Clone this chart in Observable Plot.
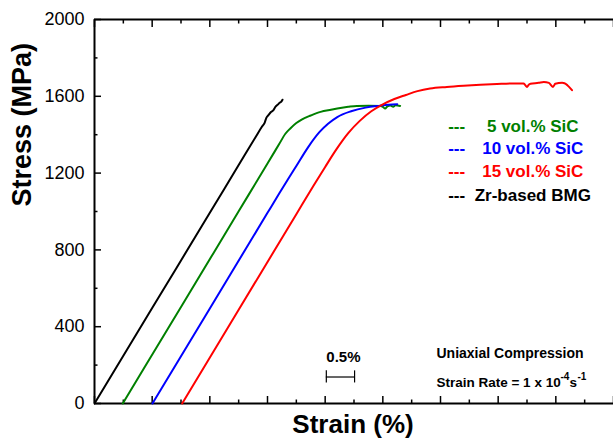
<!DOCTYPE html>
<html><head><meta charset="utf-8">
<script src="https://cdn.jsdelivr.net/npm/d3@7"></script>
<script src="https://cdn.jsdelivr.net/npm/@observablehq/plot@0.6"></script>
<style>body{margin:0;background:#fff}svg{display:block}</style>
</head><body><div id="chart"></div>
<script>
// ---- data (strain %, stress MPa) ----
const bmgStrain = [0, 1.0, 2.0, 2.5, 2.8, 2.9, 2.95, 2.98, 3.02, 3.06, 3.1, 3.14, 3.18, 3.21, 3.24, 3.26];
const bmgStress = [0, 497, 993, 1242, 1391, 1440, 1462, 1488, 1503, 1518, 1527, 1546, 1557, 1566, 1572, 1582];

const sic5Strain = [0.49, 1.5, 2.5, 3.0, 3.2, 3.31, 3.4, 3.5, 3.6, 3.75, 3.92, 4.1, 4.21, 4.4, 4.55, 4.75, 4.96, 5.0, 5.04, 5.08, 5.13, 5.18, 5.22, 5.30];
const sic5Stress = [0, 503, 1001, 1250, 1350, 1405, 1434, 1461, 1480, 1500, 1519, 1530, 1536, 1545, 1550, 1551, 1550, 1545, 1536, 1548, 1552, 1546, 1553, 1550];

const sic10Strain = [1.005, 2.0, 3.0, 3.2, 3.35, 3.5, 3.7, 3.9, 4.05, 4.21, 4.45, 4.7, 4.95, 5.1, 5.25];
const sic10Stress = [0, 495, 993, 1092, 1165, 1237, 1333, 1413, 1457, 1492, 1522, 1541, 1551, 1556, 1559];

const sic15Strain = [1.52, 2.5, 3.5, 3.8, 4.0, 4.2, 4.4, 4.6, 4.8, 5.0, 5.2, 5.4, 5.6, 5.82, 6.11, 6.4, 6.69, 6.98, 7.27, 7.44, 7.47, 7.5, 7.53, 7.56, 7.7, 7.79, 7.88, 7.95, 7.99, 8.11, 8.15, 8.2, 8.28];
const sic15Stress = [0, 488, 986, 1135, 1232, 1326, 1408, 1472, 1522, 1558, 1586, 1607, 1627, 1641, 1649, 1655, 1660, 1664, 1667, 1667, 1658, 1649, 1660, 1665, 1670, 1675, 1670, 1649, 1665, 1670, 1668, 1658, 1632];

const seriesNames = ["5 vol.% SiC", "10 vol.% SiC", "15 vol.% SiC", "Zr-based BMG"];
const seriesColors = ["#008000", "#0000ff", "#ff0000", "#000000"];

const yMajorTicks = [0, 400, 800, 1200, 1600, 2000];
const yMinorTicks = [200, 600, 1000, 1400, 1800];
const xMajorTicks = [0, 1, 2, 3, 4, 5, 6, 7, 8, 9];
const xMinorTicks = [0.5, 1.5, 2.5, 3.5, 4.5, 5.5, 6.5, 7.5, 8.5];

const xTitle = "Strain (%)";
const yTitle = "Stress (MPa)";
const noteLine1 = "Uniaxial Compression";
const noteLine2 = "Strain Rate = 1 x 10";
const scaleLabel = "0.5%";

// ---- build table ----
function toRows(name, xs, ys) { return xs.map((x, i) => ({series: name, strain: x, stress: ys[i]})); }
const rows = [
  ...toRows(seriesNames[3], bmgStrain, bmgStress),
  ...toRows(seriesNames[0], sic5Strain, sic5Stress),
  ...toRows(seriesNames[1], sic10Strain, sic10Stress),
  ...toRows(seriesNames[2], sic15Strain, sic15Stress)
];

// annotation layout (data units)
const legendDashX = 6.28, legendTextX = 7.6;
const legendY = [1440, 1328, 1210, 1083];
const scaleBar = {x1: 4.02, x2: 4.51, y: 138, yLo: 107, yHi: 170};
const noteX = 5.93;

const font = "Arial, 'Liberation Sans', sans-serif";

const chart = Plot.plot({
  width: 613, height: 445,
  marginLeft: 94, marginRight: 0, marginTop: 19, marginBottom: 42,
  style: {fontFamily: font, background: "#fff", color: "#000", overflow: "visible"},
  x: {domain: [0, 9], axis: null},
  y: {domain: [0, 2000], axis: null},
  color: {domain: seriesNames, range: seriesColors},
  marks: [
    // ticks (inward)
    Plot.axisY(yMajorTicks, {anchor: "left", tickSize: -7, tickFormat: () => "", label: null, strokeWidth: 1.5}),
    Plot.axisY(yMinorTicks, {anchor: "left", tickSize: -3.5, tickFormat: () => "", label: null, strokeWidth: 1.5}),
    Plot.axisX(xMajorTicks, {anchor: "bottom", tickSize: -7, tickFormat: () => "", label: null, strokeWidth: 1.5}),
    Plot.axisX(xMinorTicks, {anchor: "bottom", tickSize: -3.5, tickFormat: () => "", label: null, strokeWidth: 1.5}),
    Plot.axisX(xMajorTicks, {anchor: "top", tickSize: -7, tickFormat: () => "", label: null, strokeWidth: 1.5}),
    Plot.axisX(xMinorTicks, {anchor: "top", tickSize: -3.5, tickFormat: () => "", label: null, strokeWidth: 1.5}),
    // frame lines
    Plot.ruleX([0], {strokeWidth: 2}),
    Plot.ruleY([0, 2000], {strokeWidth: 2}),
    // y tick labels
    Plot.text(yMajorTicks, {y: d => d, frameAnchor: "left", dx: -10, textAnchor: "end", text: d => String(d), fontSize: 18}),
    // curves
    Plot.line(rows, {x: "strain", y: "stress", z: "series", stroke: "series", strokeWidth: 2, curve: "monotone-x"}),
    // legend
    Plot.text(seriesNames, {x: legendDashX, y: (d, i) => legendY[i], text: () => "---", fill: d => d, fontSize: 17, fontWeight: "bold"}),
    Plot.text(seriesNames, {x: legendTextX, y: (d, i) => legendY[i], text: d => d, fill: d => d, fontSize: 17, fontWeight: "bold"}),
    // scale bar
    Plot.ruleY([scaleBar.y], {x1: scaleBar.x1, x2: scaleBar.x2, strokeWidth: 1.2}),
    Plot.ruleX([scaleBar.x1, scaleBar.x2], {y1: scaleBar.yLo, y2: scaleBar.yHi, strokeWidth: 1.2}),
    Plot.text([scaleLabel], {x: (scaleBar.x1 + scaleBar.x2) / 2, y: 243, text: d => d, fontSize: 15, fontWeight: "bold", dx: 3}),
    // notes
    Plot.text([noteLine1], {x: noteX, y: 262, text: d => d, textAnchor: "start", fontSize: 14, fontWeight: "bold"}),
    Plot.text([noteLine2], {x: noteX, y: 107, text: d => d, textAnchor: "start", fontSize: 13.5, fontWeight: "bold"}),
    Plot.text(["-4"], {x: noteX, y: 107, text: d => d, textAnchor: "start", fontSize: 10, fontWeight: "bold", dx: 124, dy: -6}),
    Plot.text(["s"], {x: noteX, y: 107, text: d => d, textAnchor: "start", fontSize: 13.5, fontWeight: "bold", dx: 133}),
    Plot.text(["-1"], {x: noteX, y: 107, text: d => d, textAnchor: "start", fontSize: 10, fontWeight: "bold", dx: 141, dy: -6}),
    // axis titles
    Plot.text([xTitle], {frameAnchor: "bottom", dy: 29, text: d => d, fontSize: 26, fontWeight: "bold", dx: -1}),
    Plot.text([yTitle], {frameAnchor: "left", dx: -72, dy: -5, rotate: -90, text: d => d, fontSize: 27, fontWeight: "bold"})
  ]
});
document.getElementById("chart").appendChild(chart);
</script>
</body></html>
